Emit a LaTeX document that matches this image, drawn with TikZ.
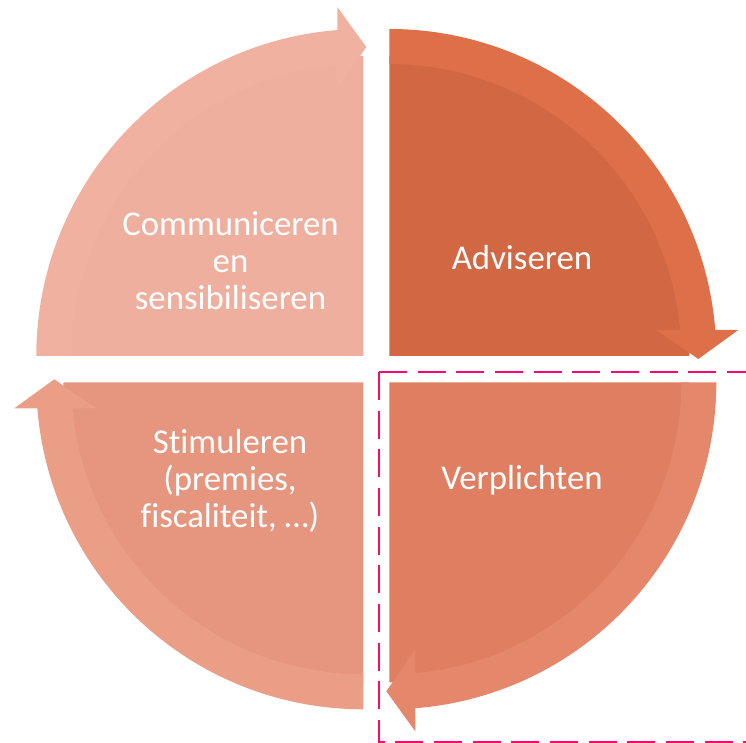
\documentclass[tikz,border=0pt]{standalone}
\usepackage{fontspec}
\setmainfont{Carlito}[Ligatures=NoCommon]
\definecolor{trpie}{HTML}{D26843}
\definecolor{trband}{HTML}{DE7049}
\definecolor{brpie}{HTML}{DF7E60}
\definecolor{brband}{HTML}{E5876A}
\definecolor{blpie}{HTML}{E6967E}
\definecolor{blband}{HTML}{EA9E86}
\definecolor{tlpie}{HTML}{EFAF9F}
\definecolor{tlband}{HTML}{F0B1A1}
\definecolor{hilite}{RGB}{250,10,110}
\tikzset{
  seg/.pic={
    \fill[#1pie] (0,0) -- (0,300) arc[start angle=90,end angle=0,radius=300] -- cycle;
    \fill[#1band] (0,327) arc[start angle=90,end angle=4.561,radius=327]
      -- (349,26) -- (309,-3) -- (267,26) -- (290.84,26)
      arc[start angle=5.108,end angle=90,radius=292] -- cycle;
  },
  lbl/.style={text=white,inner sep=0pt,font=\fontsize{34.8}{37}\selectfont},
  dashbox/.style={draw=hilite,line width=2.7pt,dash pattern=on 28pt off 10.67pt}
}
\begin{document}
\begin{tikzpicture}[x=1pt,y=1pt]
\useasboundingbox (0,0) rectangle (746,743);
\clip (0,0) rectangle (746,743);
\pic at (389.3,387) {seg=tr};
\pic[rotate=-90] at (389.3,360.7) {seg=br};
\pic[rotate=180] at (363.3,360.7) {seg=bl};
\pic[rotate=90] at (363.3,387) {seg=tl};
\node[lbl,anchor=base] (adv) at (522,473) {Adviseren};
\node[lbl,anchor=base] (verp) at (522,253) {Verplichten};
\node[lbl,align=center] (comm) at (230.5,482) {Communiceren\\en\\sensibiliseren};
\node[lbl,align=center] (stim) at (230,262) {Stimuleren\\(premies,\\fiscaliteit, …)};
\coordinate (boxtl) at (379,371);
\coordinate (boxtr) at (760,371);
\coordinate (boxbl) at (379,0.5);
\coordinate (boxbr) at (760,0.5);
\draw[dashbox] (boxtl) -- (boxtr);
\draw[dashbox] (boxtl) -- (boxbl) -- (boxbr);
\end{tikzpicture}
\end{document}
